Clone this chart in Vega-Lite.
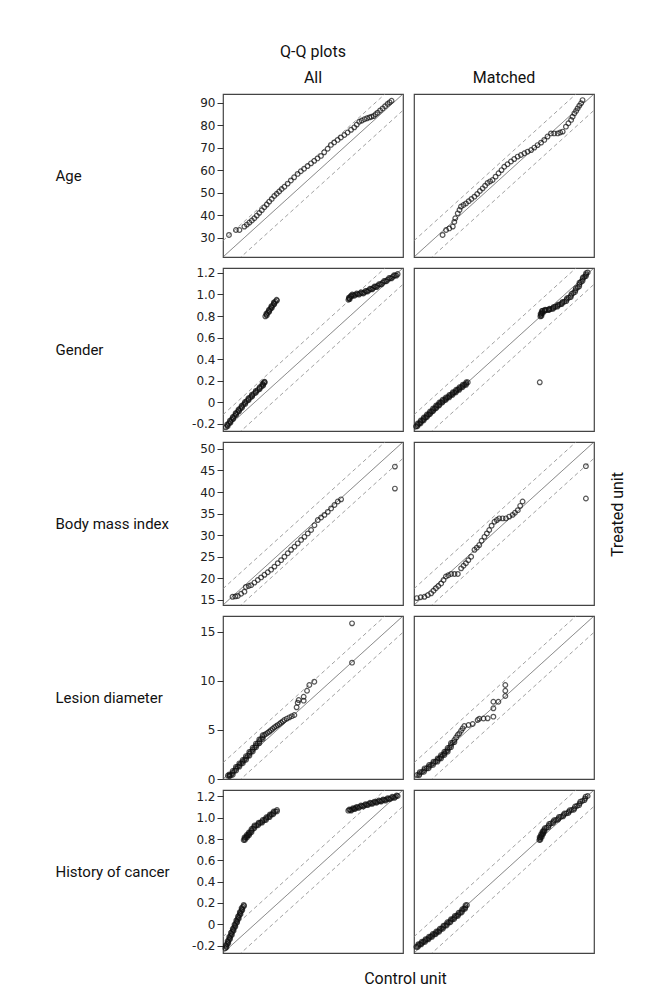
{
"$schema":"https://vega.github.io/schema/vega-lite/v6.json",
"background":"white",
"padding":{"left":54,"top":43,"right":5,"bottom":5},
"config":{
 "view":{"stroke":"#444","strokeWidth":1.2},
 "axisLeft":{"labelFont":"DejaVu Sans","labelFontSize":12,"labelColor":"#222","tickColor":"#333","tickSize":6,"domain":false,"grid":false,"labelPadding":2,"titleAngle":0,"titleAlign":"left","titleBaseline":"middle","titleX":-168,"titleY":81.5,"titleFont":"Liberation Sans Narrow, Roboto, sans-serif","titleFontSize":15,"titleFontWeight":"normal","titleColor":"#111"},
 "title":{"font":"Liberation Sans Narrow, Roboto, sans-serif","fontSize":16,"fontWeight":"normal","color":"#111","lineHeight":26,"offset":8,"anchor":"middle"},
 "point":{"shape":"circle","filled":false,"color":"#111","size":22,"strokeWidth":1.2}
},
"datasets":{
 "L1":[{"k":"s","x":21.4,"y":21.4,"x2":93.8,"y2":93.8},{"k":"d","x":21.4,"y":28.64,"x2":93.8,"y2":101.04},{"k":"d","x":21.4,"y":14.16,"x2":93.8,"y2":86.56}],
 "L2":[{"k":"s","x":-0.265,"y":-0.265,"x2":1.245,"y2":1.245},{"k":"d","x":-0.265,"y":-0.114,"x2":1.245,"y2":1.396},{"k":"d","x":-0.265,"y":-0.416,"x2":1.245,"y2":1.094}],
 "L3":[{"k":"s","x":13.8,"y":13.8,"x2":51.6,"y2":51.6},{"k":"d","x":13.8,"y":17.58,"x2":51.6,"y2":55.38},{"k":"d","x":13.8,"y":10.02,"x2":51.6,"y2":47.82}],
 "L4":[{"k":"s","x":0,"y":0,"x2":16.6,"y2":16.6},{"k":"d","x":0,"y":1.66,"x2":16.6,"y2":18.26},{"k":"d","x":0,"y":-1.66,"x2":16.6,"y2":14.94}],
 "L5":[{"k":"s","x":-0.27,"y":-0.27,"x2":1.26,"y2":1.26},{"k":"d","x":-0.27,"y":-0.117,"x2":1.26,"y2":1.413},{"k":"d","x":-0.27,"y":-0.423,"x2":1.26,"y2":1.107}],
 "a1":[{"x":23.8,"y":31.2},{"x":26.6,"y":33.4},{"x":28.0,"y":33.4},{"x":30.0,"y":34.9},{"x":31.0,"y":35.8},{"x":32.0,"y":36.7},{"x":33.0,"y":37.6},{"x":34.0,"y":38.6},{"x":35.0,"y":39.8},{"x":36.0,"y":41.0},{"x":37.0,"y":42.2},{"x":38.0,"y":43.5},{"x":39.0,"y":44.7},{"x":40.0,"y":46.0},{"x":41.0,"y":47.2},{"x":42.0,"y":48.5},{"x":43.0,"y":49.5},{"x":44.0,"y":50.5},{"x":45.0,"y":51.6},{"x":46.1,"y":52.6},{"x":47.4,"y":54.0},{"x":48.7,"y":55.4},{"x":50.0,"y":56.8},{"x":51.4,"y":58.3},{"x":52.7,"y":59.5},{"x":54.0,"y":60.6},{"x":55.4,"y":61.8},{"x":56.8,"y":63.0},{"x":58.1,"y":64.1},{"x":59.4,"y":65.2},{"x":60.8,"y":66.3},{"x":62.1,"y":67.9},{"x":63.5,"y":69.5},{"x":64.8,"y":71.2},{"x":66.1,"y":72.3},{"x":67.5,"y":73.4},{"x":68.8,"y":74.5},{"x":70.2,"y":75.6},{"x":71.5,"y":76.7},{"x":72.9,"y":77.9},{"x":74.2,"y":79.0},{"x":75.2,"y":80.2},{"x":76.2,"y":81.5},{"x":77.2,"y":82.0},{"x":78.3,"y":82.6},{"x":79.3,"y":83.0},{"x":80.3,"y":83.4},{"x":81.1,"y":83.7},{"x":82.0,"y":84.0},{"x":82.8,"y":84.8},{"x":83.6,"y":85.5},{"x":84.6,"y":86.5},{"x":85.6,"y":87.4},{"x":86.6,"y":88.4},{"x":87.6,"y":89.4},{"x":88.4,"y":90.1},{"x":89.2,"y":90.8}],
 "a2":[{"x":32.9,"y":31.2},{"x":34.3,"y":33.4},{"x":35.6,"y":34.1},{"x":37.0,"y":34.9},{"x":37.6,"y":37.0},{"x":38.0,"y":38.6},{"x":39.0,"y":40.8},{"x":39.7,"y":42.3},{"x":40.3,"y":43.8},{"x":41.3,"y":44.5},{"x":42.3,"y":45.2},{"x":43.4,"y":46.2},{"x":44.5,"y":47.2},{"x":45.7,"y":48.2},{"x":46.8,"y":49.4},{"x":47.9,"y":50.7},{"x":49.0,"y":51.9},{"x":50.0,"y":53.1},{"x":51.0,"y":54.3},{"x":52.0,"y":55.0},{"x":53.0,"y":55.6},{"x":54.2,"y":57.1},{"x":55.4,"y":58.6},{"x":56.6,"y":60.0},{"x":57.7,"y":61.5},{"x":59.0,"y":62.6},{"x":60.4,"y":63.8},{"x":61.7,"y":64.9},{"x":63.1,"y":66.0},{"x":64.4,"y":66.7},{"x":65.8,"y":67.5},{"x":67.1,"y":68.2},{"x":68.5,"y":68.9},{"x":69.8,"y":70.0},{"x":71.1,"y":71.1},{"x":72.5,"y":72.2},{"x":73.8,"y":73.4},{"x":75.1,"y":74.9},{"x":76.5,"y":76.3},{"x":77.8,"y":76.3},{"x":79.2,"y":76.3},{"x":80.2,"y":76.7},{"x":81.2,"y":77.1},{"x":82.5,"y":79.3},{"x":83.5,"y":80.8},{"x":84.6,"y":82.3},{"x":85.2,"y":83.7},{"x":85.9,"y":85.2},{"x":86.6,"y":86.3},{"x":87.2,"y":87.4},{"x":87.9,"y":88.6},{"x":88.6,"y":89.7},{"x":89.2,"y":91.1}],
 "g1":[{"x":-0.240,"y":-0.230},{"x":-0.228,"y":-0.212},{"x":-0.216,"y":-0.195},{"x":-0.204,"y":-0.178},{"x":-0.193,"y":-0.160},{"x":-0.181,"y":-0.143},{"x":-0.169,"y":-0.126},{"x":-0.157,"y":-0.108},{"x":-0.145,"y":-0.091},{"x":-0.133,"y":-0.074},{"x":-0.120,"y":-0.057},{"x":-0.107,"y":-0.040},{"x":-0.094,"y":-0.022},{"x":-0.080,"y":-0.005},{"x":-0.066,"y":0.012},{"x":-0.051,"y":0.029},{"x":-0.036,"y":0.046},{"x":-0.021,"y":0.063},{"x":-0.006,"y":0.080},{"x":0.010,"y":0.097},{"x":0.026,"y":0.114},{"x":0.042,"y":0.131},{"x":0.058,"y":0.148},{"x":0.070,"y":0.165},{"x":0.078,"y":0.180},{"x":0.082,"y":0.192},
  {"x":-0.226,"y":-0.221},{"x":-0.230,"y":-0.204},{"x":-0.202,"y":-0.187},{"x":-0.207,"y":-0.169},{"x":-0.179,"y":-0.152},{"x":-0.183,"y":-0.135},{"x":-0.155,"y":-0.117},{"x":-0.159,"y":-0.100},{"x":-0.131,"y":-0.083},{"x":-0.135,"y":-0.066},{"x":-0.106,"y":-0.049},{"x":-0.109,"y":-0.031},{"x":-0.079,"y":-0.014},{"x":-0.081,"y":0.004},{"x":-0.051,"y":0.021},{"x":-0.052,"y":0.038},{"x":-0.021,"y":0.055},{"x":-0.022,"y":0.072},{"x":0.010,"y":0.089},{"x":0.010,"y":0.106},{"x":0.042,"y":0.123},{"x":0.042,"y":0.140},{"x":0.072,"y":0.157},{"x":0.066,"y":0.173},{"x":0.086,"y":0.186},
  {"x":0.090,"y":0.797},{"x":0.100,"y":0.814},{"x":0.111,"y":0.831},{"x":0.121,"y":0.848},{"x":0.132,"y":0.866},{"x":0.142,"y":0.883},{"x":0.153,"y":0.900},{"x":0.163,"y":0.917},{"x":0.174,"y":0.934},{"x":0.185,"y":0.951},
  {"x":0.102,"y":0.806},{"x":0.099,"y":0.823},{"x":0.123,"y":0.840},{"x":0.120,"y":0.857},{"x":0.144,"y":0.875},{"x":0.141,"y":0.892},{"x":0.165,"y":0.909},{"x":0.162,"y":0.926},{"x":0.187,"y":0.943},
  {"x":0.787,"y":0.951},{"x":0.794,"y":0.963},{"x":0.801,"y":0.976},{"x":0.809,"y":0.988},{"x":0.828,"y":0.993},{"x":0.846,"y":0.998},{"x":0.865,"y":1.003},{"x":0.884,"y":1.009},{"x":0.902,"y":1.014},{"x":0.921,"y":1.019},{"x":0.940,"y":1.030},{"x":0.958,"y":1.040},{"x":0.977,"y":1.050},{"x":0.996,"y":1.060},{"x":1.014,"y":1.071},{"x":1.033,"y":1.081},{"x":1.054,"y":1.095},{"x":1.075,"y":1.109},{"x":1.096,"y":1.123},{"x":1.117,"y":1.137},{"x":1.138,"y":1.150},{"x":1.159,"y":1.163},{"x":1.179,"y":1.176},{"x":1.200,"y":1.189},
  {"x":0.798,"y":0.957},{"x":0.791,"y":0.970},{"x":0.812,"y":0.982},{"x":0.819,"y":0.999},{"x":0.837,"y":0.988},{"x":0.856,"y":1.009},{"x":0.875,"y":0.998},{"x":0.893,"y":1.020},{"x":0.912,"y":1.009},{"x":0.931,"y":1.033},{"x":0.949,"y":1.027},{"x":0.968,"y":1.053},{"x":0.987,"y":1.047},{"x":1.005,"y":1.074},{"x":1.024,"y":1.068},{"x":1.044,"y":1.096},{"x":1.065,"y":1.094},{"x":1.086,"y":1.124},{"x":1.107,"y":1.122},{"x":1.128,"y":1.152},{"x":1.149,"y":1.149},{"x":1.169,"y":1.178},{"x":1.190,"y":1.175}],
 "g2":[{"x":-0.248,"y":-0.222},{"x":-0.235,"y":-0.208},{"x":-0.222,"y":-0.195},{"x":-0.209,"y":-0.181},{"x":-0.196,"y":-0.167},{"x":-0.183,"y":-0.153},{"x":-0.170,"y":-0.139},{"x":-0.157,"y":-0.125},{"x":-0.144,"y":-0.111},{"x":-0.131,"y":-0.097},{"x":-0.118,"y":-0.083},{"x":-0.105,"y":-0.069},{"x":-0.092,"y":-0.055},{"x":-0.079,"y":-0.041},{"x":-0.066,"y":-0.027},{"x":-0.053,"y":-0.014},{"x":-0.040,"y":0.000},{"x":-0.026,"y":0.012},{"x":-0.012,"y":0.023},{"x":0.002,"y":0.035},{"x":0.016,"y":0.047},{"x":0.031,"y":0.058},{"x":0.045,"y":0.070},{"x":0.059,"y":0.082},{"x":0.073,"y":0.093},{"x":0.087,"y":0.105},{"x":0.101,"y":0.117},{"x":0.115,"y":0.128},{"x":0.129,"y":0.140},{"x":0.143,"y":0.152},{"x":0.158,"y":0.163},{"x":0.172,"y":0.175},{"x":0.186,"y":0.186},
  {"x":-0.236,"y":-0.221},{"x":-0.235,"y":-0.196},{"x":-0.210,"y":-0.194},{"x":-0.209,"y":-0.168},{"x":-0.184,"y":-0.166},{"x":-0.183,"y":-0.140},{"x":-0.158,"y":-0.138},{"x":-0.157,"y":-0.112},{"x":-0.132,"y":-0.110},{"x":-0.131,"y":-0.084},{"x":-0.106,"y":-0.082},{"x":-0.105,"y":-0.056},{"x":-0.080,"y":-0.054},{"x":-0.079,"y":-0.028},{"x":-0.054,"y":-0.027},{"x":-0.053,"y":-0.001},{"x":-0.027,"y":0.000},{"x":-0.025,"y":0.024},{"x":0.001,"y":0.023},{"x":0.003,"y":0.047},{"x":0.030,"y":0.046},{"x":0.032,"y":0.070},{"x":0.058,"y":0.070},{"x":0.060,"y":0.094},{"x":0.086,"y":0.093},{"x":0.088,"y":0.117},{"x":0.114,"y":0.116},{"x":0.116,"y":0.140},{"x":0.142,"y":0.140},{"x":0.145,"y":0.164},{"x":0.171,"y":0.163},{"x":0.173,"y":0.187},
  {"x":0.790,"y":0.186},
  {"x":0.795,"y":0.797},{"x":0.800,"y":0.810},{"x":0.805,"y":0.823},{"x":0.810,"y":0.836},{"x":0.815,"y":0.849},{"x":0.833,"y":0.853},{"x":0.850,"y":0.857},{"x":0.868,"y":0.861},{"x":0.885,"y":0.865},{"x":0.903,"y":0.875},{"x":0.922,"y":0.886},{"x":0.940,"y":0.896},{"x":0.959,"y":0.908},{"x":0.977,"y":0.921},{"x":0.996,"y":0.933},{"x":1.015,"y":0.951},{"x":1.033,"y":0.970},{"x":1.052,"y":0.988},{"x":1.071,"y":1.014},{"x":1.089,"y":1.040},{"x":1.108,"y":1.066},{"x":1.122,"y":1.092},{"x":1.136,"y":1.117},{"x":1.150,"y":1.143},{"x":1.164,"y":1.163},{"x":1.178,"y":1.184},{"x":1.192,"y":1.204},
  {"x":0.804,"y":0.800},{"x":0.797,"y":0.821},{"x":0.814,"y":0.826},{"x":0.807,"y":0.847},{"x":0.830,"y":0.847},{"x":0.836,"y":0.859},{"x":0.865,"y":0.855},{"x":0.871,"y":0.867},{"x":0.900,"y":0.866},{"x":0.907,"y":0.885},{"x":0.937,"y":0.887},{"x":0.944,"y":0.906},{"x":0.974,"y":0.911},{"x":0.981,"y":0.931},{"x":1.012,"y":0.938},{"x":1.018,"y":0.965},{"x":1.049,"y":0.975},{"x":1.056,"y":1.005},{"x":1.086,"y":1.023},{"x":1.093,"y":1.057},{"x":1.121,"y":1.075},{"x":1.123,"y":1.109},{"x":1.149,"y":1.126},{"x":1.151,"y":1.157},{"x":1.177,"y":1.170},{"x":1.179,"y":1.198}],
 "b1":[{"x":15.8,"y":15.7},{"x":16.4,"y":15.8},{"x":16.9,"y":15.9},{"x":17.6,"y":16.4},{"x":18.3,"y":16.9},{"x":18.6,"y":18.0},{"x":19.2,"y":18.2},{"x":19.7,"y":18.4},{"x":20.4,"y":19.0},{"x":21.1,"y":19.6},{"x":21.8,"y":20.2},{"x":22.5,"y":20.8},{"x":23.2,"y":21.4},{"x":23.9,"y":22.0},{"x":24.6,"y":22.7},{"x":25.3,"y":23.5},{"x":26.0,"y":24.2},{"x":26.7,"y":25.0},{"x":27.4,"y":25.8},{"x":28.1,"y":26.6},{"x":28.8,"y":27.3},{"x":29.5,"y":28.1},{"x":30.2,"y":28.9},{"x":30.9,"y":29.6},{"x":31.6,"y":30.4},{"x":32.3,"y":31.2},{"x":33.0,"y":32.3},{"x":33.7,"y":33.5},{"x":34.4,"y":34.1},{"x":35.1,"y":34.7},{"x":35.8,"y":35.4},{"x":36.5,"y":36.2},{"x":37.2,"y":37.0},{"x":37.9,"y":37.8},{"x":38.6,"y":38.3},{"x":49.9,"y":45.9},{"x":49.9,"y":40.8}],
 "b2":[{"x":14.4,"y":15.4},{"x":15.2,"y":15.6},{"x":16.0,"y":15.7},{"x":16.7,"y":16.1},{"x":17.4,"y":16.5},{"x":17.9,"y":17.1},{"x":18.4,"y":17.7},{"x":18.9,"y":18.2},{"x":19.5,"y":18.8},{"x":20.0,"y":19.6},{"x":20.5,"y":20.4},{"x":21.0,"y":20.7},{"x":21.6,"y":21.0},{"x":22.3,"y":21.0},{"x":23.0,"y":21.0},{"x":23.7,"y":22.3},{"x":24.2,"y":22.9},{"x":24.7,"y":23.5},{"x":25.2,"y":24.2},{"x":25.8,"y":25.0},{"x":26.5,"y":26.6},{"x":27.0,"y":27.1},{"x":27.5,"y":27.7},{"x":28.0,"y":28.7},{"x":28.6,"y":29.6},{"x":29.1,"y":30.4},{"x":29.6,"y":31.2},{"x":30.1,"y":32.2},{"x":30.7,"y":33.1},{"x":31.2,"y":33.5},{"x":31.7,"y":33.9},{"x":32.4,"y":33.9},{"x":33.1,"y":33.9},{"x":33.8,"y":34.3},{"x":34.5,"y":34.7},{"x":35.0,"y":35.2},{"x":35.6,"y":35.8},{"x":36.1,"y":36.8},{"x":36.6,"y":37.8},{"x":49.9,"y":46.0},{"x":49.9,"y":38.5}],
 "l1":[{"x":0.45,"y":0.35},{"x":0.60,"y":0.38},{"x":0.74,"y":0.41},{"x":0.89,"y":0.62},{"x":1.05,"y":0.84},{"x":1.20,"y":1.05},{"x":1.35,"y":1.26},{"x":1.51,"y":1.43},{"x":1.66,"y":1.60},{"x":1.82,"y":1.77},{"x":1.97,"y":1.94},{"x":2.12,"y":2.15},{"x":2.28,"y":2.36},{"x":2.43,"y":2.57},{"x":2.58,"y":2.78},{"x":2.74,"y":2.99},{"x":2.89,"y":3.21},{"x":3.04,"y":3.42},{"x":3.20,"y":3.63},{"x":3.35,"y":3.84},{"x":3.50,"y":4.06},{"x":3.66,"y":4.27},{"x":3.81,"y":4.48},
  {"x":0.605,"y":0.285},{"x":0.59,"y":0.475},{"x":0.895,"y":0.435},{"x":0.89,"y":0.81},{"x":1.205,"y":0.865},{"x":1.195,"y":1.235},{"x":1.51,"y":1.265},{"x":1.505,"y":1.595},{"x":1.82,"y":1.605},{"x":1.815,"y":1.935},{"x":2.125,"y":1.965},{"x":2.12,"y":2.335},{"x":2.435,"y":2.385},{"x":2.425,"y":2.755},{"x":2.74,"y":2.805},{"x":2.735,"y":3.18},{"x":3.045,"y":3.235},{"x":3.04,"y":3.605},{"x":3.355,"y":3.655},{"x":3.345,"y":4.03},{"x":3.66,"y":4.085},{"x":3.655,"y":4.455},
  {"x":3.96,"y":4.59},{"x":4.12,"y":4.71},{"x":4.27,"y":4.82},{"x":4.42,"y":4.97},{"x":4.58,"y":5.11},{"x":4.73,"y":5.26},{"x":4.89,"y":5.37},{"x":5.04,"y":5.49},{"x":5.20,"y":5.60},{"x":5.35,"y":5.74},{"x":5.51,"y":5.87},{"x":5.66,"y":6.01},{"x":5.89,"y":6.15},{"x":6.12,"y":6.28},{"x":6.35,"y":6.40},{"x":6.58,"y":6.52},{"x":6.79,"y":7.30},{"x":6.89,"y":7.77},{"x":6.98,"y":8.04},{"x":7.44,"y":8.38},{"x":7.44,"y":7.98},{"x":7.75,"y":8.99},{"x":7.96,"y":9.57},{"x":8.42,"y":9.91},{"x":11.9,"y":11.85},{"x":11.9,"y":15.85}],
 "l2":[{"x":0.28,"y":0.41},{"x":0.50,"y":0.52},{"x":0.73,"y":0.72},{"x":0.95,"y":0.92},{"x":1.16,"y":1.09},{"x":1.37,"y":1.26},{"x":1.57,"y":1.43},{"x":1.77,"y":1.60},{"x":1.98,"y":1.77},{"x":2.18,"y":1.94},{"x":2.34,"y":2.10},{"x":2.49,"y":2.27},{"x":2.65,"y":2.44},{"x":2.80,"y":2.61},{"x":2.95,"y":2.78},{"x":3.10,"y":2.95},{"x":3.26,"y":3.20},{"x":3.41,"y":3.46},{"x":3.57,"y":3.71},{"x":3.72,"y":3.97},{"x":3.88,"y":4.22},{"x":4.03,"y":4.48},
  {"x":0.47,"y":0.385},{"x":0.535,"y":0.70},{"x":0.92,"y":0.74},{"x":0.975,"y":1.085},{"x":1.345,"y":1.095},{"x":1.39,"y":1.425},{"x":1.75,"y":1.435},{"x":1.795,"y":1.765},{"x":2.16,"y":1.775},{"x":2.18,"y":2.10},{"x":2.495,"y":2.105},{"x":2.49,"y":2.435},{"x":2.805,"y":2.445},{"x":2.795,"y":2.775},{"x":3.105,"y":2.785},{"x":3.10,"y":3.155},{"x":3.415,"y":3.25},{"x":3.41,"y":3.665},{"x":3.725,"y":3.76},
  {"x":4.18,"y":4.65},{"x":4.34,"y":4.91},{"x":4.49,"y":5.16},{"x":4.64,"y":5.40},{"x":5.03,"y":5.50},{"x":5.41,"y":5.60},{"x":5.87,"y":6.01},{"x":6.02,"y":6.14},{"x":6.41,"y":6.16},{"x":6.79,"y":6.18},{"x":7.32,"y":6.35},{"x":7.32,"y":7.20},{"x":7.32,"y":7.87},{"x":7.78,"y":7.87},{"x":8.42,"y":8.45},{"x":8.42,"y":8.99},{"x":8.42,"y":9.57}],
 "h1":[{"x":-0.250,"y":-0.225},{"x":-0.243,"y":-0.206},{"x":-0.235,"y":-0.186},{"x":-0.228,"y":-0.167},{"x":-0.220,"y":-0.148},{"x":-0.213,"y":-0.128},{"x":-0.206,"y":-0.109},{"x":-0.198,"y":-0.090},{"x":-0.191,"y":-0.070},{"x":-0.183,"y":-0.051},{"x":-0.176,"y":-0.032},{"x":-0.168,"y":-0.012},{"x":-0.161,"y":0.007},{"x":-0.153,"y":0.026},{"x":-0.146,"y":0.046},{"x":-0.139,"y":0.065},{"x":-0.131,"y":0.084},{"x":-0.124,"y":0.104},{"x":-0.116,"y":0.123},{"x":-0.109,"y":0.142},{"x":-0.101,"y":0.162},{"x":-0.094,"y":0.181},
  {"x":-0.240,"y":-0.216},{"x":-0.246,"y":-0.196},{"x":-0.225,"y":-0.177},{"x":-0.231,"y":-0.158},{"x":-0.210,"y":-0.138},{"x":-0.217,"y":-0.119},{"x":-0.195,"y":-0.100},{"x":-0.202,"y":-0.080},{"x":-0.180,"y":-0.061},{"x":-0.187,"y":-0.042},{"x":-0.165,"y":-0.022},{"x":-0.172,"y":-0.003},{"x":-0.150,"y":0.017},{"x":-0.157,"y":0.036},{"x":-0.136,"y":0.056},{"x":-0.142,"y":0.075},{"x":-0.121,"y":0.094},{"x":-0.127,"y":0.114},{"x":-0.106,"y":0.133},{"x":-0.112,"y":0.152},{"x":-0.091,"y":0.172},
  {"x":-0.094,"y":0.791},{"x":-0.085,"y":0.803},{"x":-0.076,"y":0.814},{"x":-0.067,"y":0.826},{"x":-0.058,"y":0.837},{"x":-0.049,"y":0.849},{"x":-0.040,"y":0.860},{"x":-0.028,"y":0.879},{"x":-0.016,"y":0.897},{"x":-0.004,"y":0.916},{"x":0.013,"y":0.928},{"x":0.030,"y":0.941},{"x":0.047,"y":0.953},{"x":0.064,"y":0.966},{"x":0.081,"y":0.978},{"x":0.096,"y":0.991},{"x":0.112,"y":1.005},{"x":0.127,"y":1.018},{"x":0.143,"y":1.031},{"x":0.158,"y":1.045},{"x":0.174,"y":1.058},{"x":0.189,"y":1.072},
  {"x":-0.084,"y":0.791},{"x":-0.087,"y":0.815},{"x":-0.066,"y":0.814},{"x":-0.069,"y":0.838},{"x":-0.048,"y":0.837},{"x":-0.051,"y":0.861},{"x":-0.028,"y":0.864},{"x":-0.028,"y":0.894},{"x":-0.004,"y":0.901},{"x":-0.002,"y":0.928},{"x":0.028,"y":0.929},{"x":0.033,"y":0.953},{"x":0.062,"y":0.954},{"x":0.067,"y":0.978},{"x":0.095,"y":0.979},{"x":0.098,"y":1.004},{"x":0.126,"y":1.006},{"x":0.129,"y":1.031},{"x":0.157,"y":1.032},{"x":0.160,"y":1.058},{"x":0.188,"y":1.059},
  {"x":0.795,"y":1.066},{"x":0.811,"y":1.072},{"x":0.827,"y":1.078},{"x":0.842,"y":1.085},{"x":0.858,"y":1.091},{"x":0.874,"y":1.097},{"x":0.893,"y":1.103},{"x":0.912,"y":1.110},{"x":0.931,"y":1.116},{"x":0.950,"y":1.122},{"x":0.969,"y":1.129},{"x":0.988,"y":1.135},{"x":1.007,"y":1.140},{"x":1.026,"y":1.145},{"x":1.044,"y":1.150},{"x":1.063,"y":1.156},{"x":1.082,"y":1.161},{"x":1.101,"y":1.166},{"x":1.120,"y":1.172},{"x":1.139,"y":1.178},{"x":1.158,"y":1.184},{"x":1.177,"y":1.191},{"x":1.196,"y":1.197},{"x":1.215,"y":1.204},
  {"x":0.803,"y":1.077},{"x":0.819,"y":1.067},{"x":0.835,"y":1.090},{"x":0.850,"y":1.080},{"x":0.866,"y":1.102},{"x":0.884,"y":1.092},{"x":0.903,"y":1.115},{"x":0.922,"y":1.105},{"x":0.941,"y":1.127},{"x":0.960,"y":1.118},{"x":0.979,"y":1.140},{"x":0.998,"y":1.130},{"x":1.017,"y":1.151},{"x":1.035,"y":1.140},{"x":1.054,"y":1.161},{"x":1.073,"y":1.151},{"x":1.092,"y":1.172},{"x":1.111,"y":1.161},{"x":1.130,"y":1.183},{"x":1.149,"y":1.173},{"x":1.168,"y":1.196},{"x":1.187,"y":1.186},{"x":1.206,"y":1.209}],
 "h2":[{"x":-0.250,"y":-0.212},{"x":-0.235,"y":-0.200},{"x":-0.220,"y":-0.188},{"x":-0.205,"y":-0.176},{"x":-0.190,"y":-0.165},{"x":-0.174,"y":-0.153},{"x":-0.159,"y":-0.141},{"x":-0.144,"y":-0.129},{"x":-0.129,"y":-0.117},{"x":-0.114,"y":-0.105},{"x":-0.098,"y":-0.093},{"x":-0.083,"y":-0.081},{"x":-0.068,"y":-0.069},{"x":-0.053,"y":-0.056},{"x":-0.038,"y":-0.042},{"x":-0.022,"y":-0.027},{"x":-0.006,"y":-0.012},{"x":0.010,"y":0.003},{"x":0.026,"y":0.018},{"x":0.042,"y":0.033},{"x":0.058,"y":0.048},{"x":0.074,"y":0.063},{"x":0.090,"y":0.078},{"x":0.106,"y":0.093},{"x":0.122,"y":0.108},{"x":0.138,"y":0.125},{"x":0.152,"y":0.143},{"x":0.166,"y":0.161},{"x":0.180,"y":0.180},
  {"x":-0.238,"y":-0.213},{"x":-0.233,"y":-0.187},{"x":-0.208,"y":-0.189},{"x":-0.203,"y":-0.164},{"x":-0.177,"y":-0.166},{"x":-0.172,"y":-0.140},{"x":-0.147,"y":-0.142},{"x":-0.142,"y":-0.116},{"x":-0.117,"y":-0.118},{"x":-0.111,"y":-0.092},{"x":-0.086,"y":-0.094},{"x":-0.081,"y":-0.068},{"x":-0.056,"y":-0.070},{"x":-0.051,"y":-0.042},{"x":-0.025,"y":-0.042},{"x":-0.019,"y":-0.013},{"x":0.007,"y":-0.012},{"x":0.013,"y":0.018},{"x":0.039,"y":0.019},{"x":0.045,"y":0.048},{"x":0.071,"y":0.049},{"x":0.077,"y":0.078},{"x":0.103,"y":0.079},{"x":0.109,"y":0.108},{"x":0.135,"y":0.110},{"x":0.140,"y":0.141},{"x":0.164,"y":0.145},{"x":0.168,"y":0.178},
  {"x":0.795,"y":0.791},{"x":0.801,"y":0.805},{"x":0.807,"y":0.818},{"x":0.813,"y":0.832},{"x":0.819,"y":0.845},{"x":0.825,"y":0.858},{"x":0.831,"y":0.872},{"x":0.837,"y":0.885},{"x":0.856,"y":0.906},{"x":0.875,"y":0.926},{"x":0.894,"y":0.947},{"x":0.915,"y":0.963},{"x":0.937,"y":0.979},{"x":0.958,"y":0.994},{"x":0.979,"y":1.010},{"x":1.002,"y":1.026},{"x":1.025,"y":1.041},{"x":1.047,"y":1.057},{"x":1.070,"y":1.072},{"x":1.093,"y":1.088},{"x":1.116,"y":1.111},{"x":1.138,"y":1.134},{"x":1.161,"y":1.158},{"x":1.184,"y":1.181},{"x":1.206,"y":1.204},
  {"x":0.804,"y":0.793},{"x":0.798,"y":0.817},{"x":0.816,"y":0.820},{"x":0.810,"y":0.844},{"x":0.828,"y":0.847},{"x":0.822,"y":0.870},{"x":0.840,"y":0.874},{"x":0.841,"y":0.901},{"x":0.872,"y":0.911},{"x":0.879,"y":0.942},{"x":0.911,"y":0.950},{"x":0.920,"y":0.976},{"x":0.954,"y":0.982},{"x":0.963,"y":1.007},{"x":0.997,"y":1.013},{"x":1.008,"y":1.039},{"x":1.042,"y":1.044},{"x":1.053,"y":1.070},{"x":1.088,"y":1.075},{"x":1.099,"y":1.105},{"x":1.133,"y":1.118},{"x":1.144,"y":1.151},{"x":1.179,"y":1.165},{"x":1.189,"y":1.198}]
},
"columns":2,
"bounds":"flush",
"spacing":11,
"concat":[
  {"width":180,"height":163,"title":{"text":["Q-Q plots","All"]},
   "encoding":{"x":{"field":"x","type":"quantitative","scale":{"domain":[21.4,93.8],"nice":false,"zero":false},"axis":null},
    "y":{"field":"y","type":"quantitative","scale":{"domain":[21.4,93.8],"nice":false,"zero":false},"axis":{"values":[30,40,50,60,70,80,90],"title":"Age"}}},
   "layer":[
    {"data":{"name":"L1"},"mark":{"type":"rule","clip":true,"strokeWidth":0.8},"encoding":{"x2":{"field":"x2"},"y2":{"field":"y2"},"strokeDash":{"field":"k","type":"nominal","scale":{"domain":["s","d"],"range":[[1,0],[4,3]]},"legend":null},"color":{"field":"k","type":"nominal","scale":{"domain":["s","d"],"range":["#555555","#888888"]},"legend":null}}},
    {"data":{"name":"a1"},"mark":{"type":"point"}}]},
  {"width":180,"height":163,"title":{"text":"Matched"},
   "encoding":{"x":{"field":"x","type":"quantitative","scale":{"domain":[21.4,93.8],"nice":false,"zero":false},"axis":null},
    "y":{"field":"y","type":"quantitative","scale":{"domain":[21.4,93.8],"nice":false,"zero":false},"axis":null}},
   "layer":[
    {"data":{"name":"L1"},"mark":{"type":"rule","clip":true,"strokeWidth":0.8},"encoding":{"x2":{"field":"x2"},"y2":{"field":"y2"},"strokeDash":{"field":"k","type":"nominal","scale":{"domain":["s","d"],"range":[[1,0],[4,3]]},"legend":null},"color":{"field":"k","type":"nominal","scale":{"domain":["s","d"],"range":["#555555","#888888"]},"legend":null}}},
    {"data":{"name":"a2"},"mark":{"type":"point"}}]},
  {"width":180,"height":163,
   "encoding":{"x":{"field":"x","type":"quantitative","scale":{"domain":[-0.265,1.245],"nice":false,"zero":false},"axis":null},
    "y":{"field":"y","type":"quantitative","scale":{"domain":[-0.265,1.245],"nice":false,"zero":false},"axis":{"values":[-0.2,0,0.2,0.4,0.6,0.8,1.0,1.2],"labelExpr":"abs(datum.value) < 0.001 ? '0' : (datum.value < 0 ? '-' + format(-datum.value, '.1f') : format(datum.value, '.1f'))","title":"Gender"}}},
   "layer":[
    {"data":{"name":"L2"},"mark":{"type":"rule","clip":true,"strokeWidth":0.8},"encoding":{"x2":{"field":"x2"},"y2":{"field":"y2"},"strokeDash":{"field":"k","type":"nominal","scale":{"domain":["s","d"],"range":[[1,0],[4,3]]},"legend":null},"color":{"field":"k","type":"nominal","scale":{"domain":["s","d"],"range":["#555555","#888888"]},"legend":null}}},
    {"data":{"name":"g1"},"mark":{"type":"point"}}]},
  {"width":180,"height":163,
   "encoding":{"x":{"field":"x","type":"quantitative","scale":{"domain":[-0.265,1.245],"nice":false,"zero":false},"axis":null},
    "y":{"field":"y","type":"quantitative","scale":{"domain":[-0.265,1.245],"nice":false,"zero":false},"axis":null}},
   "layer":[
    {"data":{"name":"L2"},"mark":{"type":"rule","clip":true,"strokeWidth":0.8},"encoding":{"x2":{"field":"x2"},"y2":{"field":"y2"},"strokeDash":{"field":"k","type":"nominal","scale":{"domain":["s","d"],"range":[[1,0],[4,3]]},"legend":null},"color":{"field":"k","type":"nominal","scale":{"domain":["s","d"],"range":["#555555","#888888"]},"legend":null}}},
    {"data":{"name":"g2"},"mark":{"type":"point"}}]},
  {"width":180,"height":163,
   "encoding":{"x":{"field":"x","type":"quantitative","scale":{"domain":[13.8,51.6],"nice":false,"zero":false},"axis":null},
    "y":{"field":"y","type":"quantitative","scale":{"domain":[13.8,51.6],"nice":false,"zero":false},"axis":{"values":[15,20,25,30,35,40,45,50],"title":"Body mass index"}}},
   "layer":[
    {"data":{"name":"L3"},"mark":{"type":"rule","clip":true,"strokeWidth":0.8},"encoding":{"x2":{"field":"x2"},"y2":{"field":"y2"},"strokeDash":{"field":"k","type":"nominal","scale":{"domain":["s","d"],"range":[[1,0],[4,3]]},"legend":null},"color":{"field":"k","type":"nominal","scale":{"domain":["s","d"],"range":["#555555","#888888"]},"legend":null}}},
    {"data":{"name":"b1"},"mark":{"type":"point"}}]},
  {"width":180,"height":163,
   "encoding":{"x":{"field":"x","type":"quantitative","scale":{"domain":[13.8,51.6],"nice":false,"zero":false},"axis":null},
    "y":{"field":"y","type":"quantitative","scale":{"domain":[13.8,51.6],"nice":false,"zero":false},"axis":{"orient":"right","title":"Treated unit","labels":false,"ticks":false,"domain":false,"grid":false,"titleAngle":270,"titleX":23,"titleY":72,"titleAlign":"center","titleBaseline":"middle","titleFont":"Liberation Sans Narrow, Roboto, sans-serif","titleFontSize":16,"titleFontWeight":"normal","titleColor":"#111"}}},
   "layer":[
    {"data":{"name":"L3"},"mark":{"type":"rule","clip":true,"strokeWidth":0.8},"encoding":{"x2":{"field":"x2"},"y2":{"field":"y2"},"strokeDash":{"field":"k","type":"nominal","scale":{"domain":["s","d"],"range":[[1,0],[4,3]]},"legend":null},"color":{"field":"k","type":"nominal","scale":{"domain":["s","d"],"range":["#555555","#888888"]},"legend":null}}},
    {"data":{"name":"b2"},"mark":{"type":"point"}}]},
  {"width":180,"height":163,
   "encoding":{"x":{"field":"x","type":"quantitative","scale":{"domain":[0,16.6],"nice":false,"zero":false},"axis":null},
    "y":{"field":"y","type":"quantitative","scale":{"domain":[0,16.6],"nice":false,"zero":false},"axis":{"values":[0,5,10,15],"title":"Lesion diameter"}}},
   "layer":[
    {"data":{"name":"L4"},"mark":{"type":"rule","clip":true,"strokeWidth":0.8},"encoding":{"x2":{"field":"x2"},"y2":{"field":"y2"},"strokeDash":{"field":"k","type":"nominal","scale":{"domain":["s","d"],"range":[[1,0],[4,3]]},"legend":null},"color":{"field":"k","type":"nominal","scale":{"domain":["s","d"],"range":["#555555","#888888"]},"legend":null}}},
    {"data":{"name":"l1"},"mark":{"type":"point"}}]},
  {"width":180,"height":163,
   "encoding":{"x":{"field":"x","type":"quantitative","scale":{"domain":[0,16.6],"nice":false,"zero":false},"axis":null},
    "y":{"field":"y","type":"quantitative","scale":{"domain":[0,16.6],"nice":false,"zero":false},"axis":null}},
   "layer":[
    {"data":{"name":"L4"},"mark":{"type":"rule","clip":true,"strokeWidth":0.8},"encoding":{"x2":{"field":"x2"},"y2":{"field":"y2"},"strokeDash":{"field":"k","type":"nominal","scale":{"domain":["s","d"],"range":[[1,0],[4,3]]},"legend":null},"color":{"field":"k","type":"nominal","scale":{"domain":["s","d"],"range":["#555555","#888888"]},"legend":null}}},
    {"data":{"name":"l2"},"mark":{"type":"point"}}]},
  {"width":180,"height":163,
   "encoding":{"x":{"field":"x","type":"quantitative","scale":{"domain":[-0.27,1.26],"nice":false,"zero":false},"axis":{"orient":"bottom","title":"Control unit","labels":false,"ticks":false,"domain":false,"grid":false,"titleX":182,"titleY":25,"titleAlign":"center","titleBaseline":"middle","titleFont":"Liberation Sans Narrow, Roboto, sans-serif","titleFontSize":16,"titleFontWeight":"normal","titleColor":"#111"}},
    "y":{"field":"y","type":"quantitative","scale":{"domain":[-0.27,1.26],"nice":false,"zero":false},"axis":{"values":[-0.2,0,0.2,0.4,0.6,0.8,1.0,1.2],"labelExpr":"abs(datum.value) < 0.001 ? '0' : (datum.value < 0 ? '-' + format(-datum.value, '.1f') : format(datum.value, '.1f'))","title":"History of cancer"}}},
   "layer":[
    {"data":{"name":"L5"},"mark":{"type":"rule","clip":true,"strokeWidth":0.8},"encoding":{"x2":{"field":"x2"},"y2":{"field":"y2"},"strokeDash":{"field":"k","type":"nominal","scale":{"domain":["s","d"],"range":[[1,0],[4,3]]},"legend":null},"color":{"field":"k","type":"nominal","scale":{"domain":["s","d"],"range":["#555555","#888888"]},"legend":null}}},
    {"data":{"name":"h1"},"mark":{"type":"point"}}]},
  {"width":180,"height":163,
   "encoding":{"x":{"field":"x","type":"quantitative","scale":{"domain":[-0.27,1.26],"nice":false,"zero":false},"axis":null},
    "y":{"field":"y","type":"quantitative","scale":{"domain":[-0.27,1.26],"nice":false,"zero":false},"axis":null}},
   "layer":[
    {"data":{"name":"L5"},"mark":{"type":"rule","clip":true,"strokeWidth":0.8},"encoding":{"x2":{"field":"x2"},"y2":{"field":"y2"},"strokeDash":{"field":"k","type":"nominal","scale":{"domain":["s","d"],"range":[[1,0],[4,3]]},"legend":null},"color":{"field":"k","type":"nominal","scale":{"domain":["s","d"],"range":["#555555","#888888"]},"legend":null}}},
    {"data":{"name":"h2"},"mark":{"type":"point"}}]}
]
}
